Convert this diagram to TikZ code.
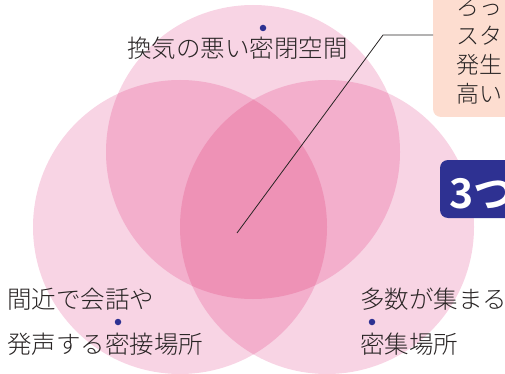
\documentclass[tikz,border=0pt]{standalone}
\usepackage{fontspec}
\newfontfamily\jp{Noto Sans CJK JP}[UprightFont=* Light, BoldFont=* Bold]
\definecolor{pinkA}{RGB}{248,212,228}
\definecolor{pinkB}{RGB}{243,175,204}
\definecolor{pinkC}{RGB}{238,146,182}
\definecolor{peach}{RGB}{253,221,208}
\definecolor{navy}{RGB}{46,49,146}
\definecolor{ink}{RGB}{40,36,36}
\tikzset{
  lbl/.style={inner sep=0pt, anchor=base west, text=ink, font=\jp\fontsize{24.5}{24.5}\selectfont},
  clbl/.style={inner sep=0pt, anchor=base west, text=ink, font=\jp\fontsize{23}{23}\selectfont},
  emdot/.style={circle, fill=navy, inner sep=0pt, minimum size=6.5pt},
}
\begin{document}
\begin{tikzpicture}[x=1pt,y=-1pt]
\useasboundingbox (0,0) rectangle (505,374);
\coordinate (cT) at (253,152);
\coordinate (cL) at (180,227);
\coordinate (cR) at (327,227);
\def\rr{147pt}
% single layers
\fill[pinkA] (cT) circle[radius=\rr];
\fill[pinkA] (cL) circle[radius=\rr];
\fill[pinkA] (cR) circle[radius=\rr];
% pairwise overlaps
\begin{scope}\clip (cT) circle[radius=\rr]; \fill[pinkB] (cL) circle[radius=\rr]; \end{scope}
\begin{scope}\clip (cT) circle[radius=\rr]; \fill[pinkB] (cR) circle[radius=\rr]; \end{scope}
\begin{scope}\clip (cL) circle[radius=\rr]; \fill[pinkB] (cR) circle[radius=\rr]; \end{scope}
% triple overlap
\begin{scope}\clip (cT) circle[radius=\rr]; \clip (cL) circle[radius=\rr]; \fill[pinkC] (cR) circle[radius=\rr]; \end{scope}

% callout box
\fill[peach, rounded corners=8pt] (433,-12) rectangle (530,117);
\coordinate (boxedge) at (433,35);
\coordinate (tip) at (237,233);
\coordinate (bend) at (383,35);
\draw[ink, line width=0.8pt] (tip) -- (bend) -- (boxedge);
\node[clbl] (c1) at (456,16) {ろっ};
\node[clbl] (c2) at (456,45) {スタ};
\node[clbl] (c3) at (456,74) {発生};
\node[clbl] (c4) at (456,103) {高い};

% 3つ box
\fill[navy, rounded corners=8pt] (440,160) rectangle (530,218);
\node[inner sep=0pt, anchor=base west, text=white, font=\jp\bfseries\fontsize{41}{41}\selectfont] (three) at (449,208) {3つ};

% labels
\node[lbl] (top) at (127,58) {換気の悪い密閉空間};
\node[emdot] (dT) at (263,28) {};
\node[lbl] (l1) at (7,308) {間近で会話や};
\node[lbl] (l2) at (7,353) {発声する密接場所};
\node[emdot] (dL) at (118,322) {};
\node[lbl] (r1) at (360,308) {多数が集まる};
\node[lbl] (r2) at (360,353) {密集場所};
\node[emdot] (dR) at (372,322) {};
\end{tikzpicture}
\end{document}
